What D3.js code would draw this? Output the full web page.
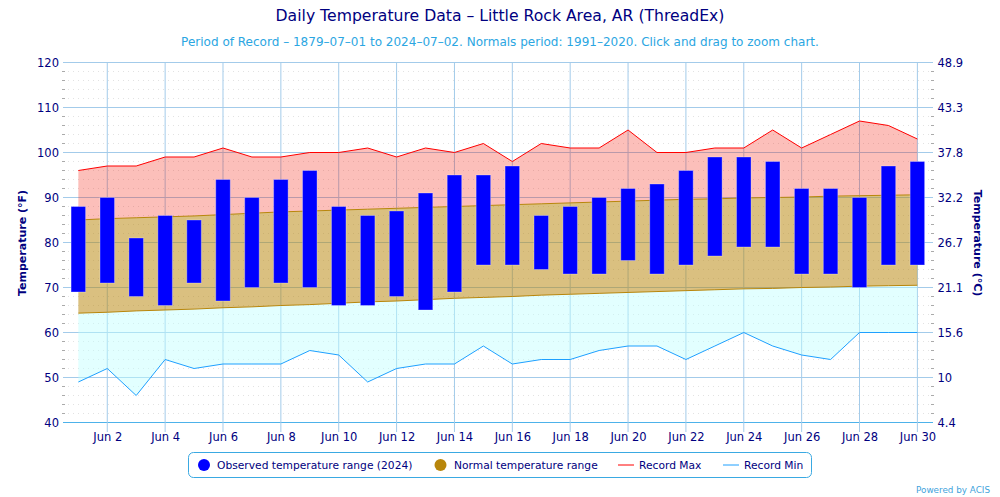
<!DOCTYPE html>
<html>
<head>
<meta charset="utf-8">
<script src="https://cdn.jsdelivr.net/npm/d3@7"></script>
<style>
  body { margin: 0; background: #fff; }
  svg { display: block; font-family: 'DejaVu Sans', sans-serif; }
  .tick text { fill: #000080; font-size: 11.5px; font-family: 'DejaVu Sans', sans-serif; }
</style>
</head>
<body>
<svg id="chart" width="1000" height="497"></svg>
<script>
const days = [1,2,3,4,5,6,7,8,9,10,11,12,13,14,15,16,17,18,19,20,21,22,23,24,25,26,27,28,29,30]
const obsHigh = [88,90,81,86,85,94,90,94,96,88,86,87,91,95,95,97,86,88,90,92,93,96,99,99,98,92,92,90,97,98]
const obsLow = [69,71,68,66,71,67,70,71,70,66,66,68,65,69,75,75,74,73,73,76,73,75,77,79,79,73,73,70,75,75]
const recordMax = [96,97,97,99,99,101,99,99,100,100,101,99,101,100,102,98,102,101,101,105,100,100,101,101,105,101,104,107,106,103]
const recordMin = [49,52,46,54,52,53,53,53,56,55,49,52,53,53,57,53,54,54,56,57,57,54,57,60,57,55,54,60,60,60]
const normalMax = [85.0,85.3,85.5,85.7,85.9,86.2,86.5,86.8,87.0,87.2,87.4,87.6,87.8,88.0,88.2,88.4,88.6,88.8,89.0,89.2,89.4,89.6,89.7,89.9,90.0,90.1,90.3,90.4,90.5,90.6]
const normalMin = [64.3,64.5,64.8,65.0,65.2,65.5,65.7,66.0,66.2,66.5,66.8,67.0,67.3,67.6,67.8,68.0,68.3,68.5,68.7,68.9,69.1,69.3,69.5,69.7,69.8,70.0,70.1,70.3,70.4,70.5]
const xTicks = [2,4,6,8,10,12,14,16,18,20,22,24,26,28,30]
const fTicks = [40,50,60,70,80,90,100,110,120]
const fMinor = [42,44,46,48,52,54,56,58,62,64,66,68,72,74,76,78,82,84,86,88,92,94,96,98,102,104,106,108,112,114,116,118]
const cLabels = ['4.4','10','15.6','21.1','26.7','32.2','37.8','43.3','48.9']

const svg = d3.select('#chart')
const navy = '#000080'
const sky = '#2ba6e2'
const gridColor = '#a3cbea'

const x = d3.scaleLinear().domain([0.47, 30.54]).range([63, 933])
const y = d3.scaleLinear().domain([40, 120]).range([422.5, 62.5])

/** titles */
svg.append('text').attr('x', 500).attr('y', 21).attr('text-anchor', 'middle')
  .attr('fill', navy).style('font-size', '15.65px')
  .text('Daily Temperature Data – Little Rock Area, AR (ThreadEx)')
svg.append('text').attr('x', 500).attr('y', 46).attr('text-anchor', 'middle')
  .attr('fill', sky).style('font-size', '12.03px')
  .text('Period of Record – 1879–07–01 to 2024–07–02. Normals period: 1991–2020. Click and drag to zoom chart.')

/** minor grid */
svg.append('g').selectAll('line').data(fMinor).join('line')
  .attr('x1', 63).attr('x2', 933)
  .attr('y1', d => y(d)).attr('y2', d => y(d))
  .attr('stroke', '#e2e2e2').attr('stroke-dasharray', '1,4')
svg.append('g').selectAll('line').data(fMinor).join('line')
  .attr('x1', 62).attr('x2', 65)
  .attr('y1', d => y(d)).attr('y2', d => y(d))
  .attr('stroke', '#aaa')
svg.append('g').selectAll('line').data(fMinor).join('line')
  .attr('x1', 931).attr('x2', 934)
  .attr('y1', d => y(d)).attr('y2', d => y(d))
  .attr('stroke', '#aaa')

/** axes, the tick lines double as grid */
const axisL = svg.append('g').attr('transform', 'translate(63,0)')
  .call(d3.axisLeft(y).tickValues(fTicks).tickSize(0).tickPadding(4))
const axisR = svg.append('g').attr('transform', 'translate(933,0)')
  .call(d3.axisRight(y).tickValues(fTicks).tickSize(0).tickPadding(4.5).tickFormat((d, i) => cLabels[i]))
const axisB = svg.append('g').attr('transform', 'translate(0,422.5)')
  .call(d3.axisBottom(x).tickValues(xTicks).tickSize(0).tickPadding(10).tickFormat(d => 'Jun ' + d))
;[axisL, axisR, axisB].forEach(a => a.select('.domain').remove())

svg.append('g').selectAll('line').data(fTicks).join('line')
  .attr('x1', 63).attr('x2', 933)
  .attr('y1', d => y(d)).attr('y2', d => y(d))
  .attr('stroke', d => d === 40 ? '#4db2ea' : gridColor)
svg.append('g').selectAll('line').data(xTicks).join('line')
  .attr('x1', d => x(d)).attr('x2', d => x(d))
  .attr('y1', 62.5).attr('y2', 432)
  .attr('stroke', gridColor)

/** bands */
const band = (top, bottom) => d3.area()
  .x(d => x(d))
  .y0((d, i) => y(bottom[i]))
  .y1((d, i) => y(top[i]))
const edge = values => d3.line().x(d => x(d)).y((d, i) => y(values[i]))

svg.append('path').datum(days).attr('d', band(recordMax, normalMax)).attr('fill', 'rgba(245,20,0,0.27)')
svg.append('path').datum(days).attr('d', band(normalMin, recordMin)).attr('fill', 'rgba(191,255,255,0.45)')
svg.append('path').datum(days).attr('d', band(normalMax, normalMin)).attr('fill', 'rgba(184,134,11,0.52)')

svg.append('path').datum(days).attr('d', edge(normalMax)).attr('fill', 'none').attr('stroke', '#b8860b')
svg.append('path').datum(days).attr('d', edge(normalMin)).attr('fill', 'none').attr('stroke', '#b8860b')
svg.append('path').datum(days).attr('d', edge(recordMax)).attr('fill', 'none').attr('stroke', '#f00')
svg.append('path').datum(days).attr('d', edge(recordMin)).attr('fill', 'none').attr('stroke', '#1ea0ff')

/** observed bars */
const barWidth = 14.5
svg.append('g').selectAll('rect').data(days).join('rect')
  .attr('x', d => x(d) - barWidth / 2)
  .attr('y', (d, i) => y(obsHigh[i]))
  .attr('width', barWidth)
  .attr('height', (d, i) => y(obsLow[i]) - y(obsHigh[i]))
  .attr('fill', '#00f')
  .attr('stroke', 'rgba(255,255,255,0.3)')

/** axis titles */
svg.append('text').attr('transform', 'translate(26,243) rotate(-90)').attr('text-anchor', 'middle')
  .attr('fill', navy).style('font-size', '11px').style('font-weight', 'bold')
  .text('Temperature (°F)')
svg.append('text').attr('transform', 'translate(974,243) rotate(90)').attr('text-anchor', 'middle')
  .attr('fill', navy).style('font-size', '11px').style('font-weight', 'bold')
  .text('Temperature (°C)')

/** legend */
const legend = svg.append('g')
legend.append('rect').attr('x', 188.5).attr('y', 452.5).attr('width', 623).attr('height', 25).attr('rx', 5)
  .attr('fill', '#fff').attr('stroke', '#3aa9e2')
legend.append('circle').attr('cx', 204).attr('cy', 465).attr('r', 6).attr('fill', '#00f')
legend.append('circle').attr('cx', 440.5).attr('cy', 465).attr('r', 6).attr('fill', '#b8860b')
legend.append('line').attr('x1', 618).attr('x2', 634).attr('y1', 465).attr('y2', 465).attr('stroke', '#f00')
legend.append('line').attr('x1', 723).attr('x2', 739).attr('y1', 465).attr('y2', 465).attr('stroke', '#1ea0ff')
const legendLabels = [['Observed temperature range (2024)', 217], ['Normal temperature range', 454], ['Record Max', 639], ['Record Min', 744]]
legend.selectAll('text').data(legendLabels).join('text')
  .attr('x', d => d[1]).attr('y', 469)
  .attr('fill', navy).style('font-size', '10.7px')
  .text(d => d[0])

/** credit */
svg.append('text').attr('x', 990).attr('y', 493).attr('text-anchor', 'end')
  .attr('fill', '#3fa3dc').style('font-size', '8.8px')
  .text('Powered by ACIS')
</script>
</body>
</html>
